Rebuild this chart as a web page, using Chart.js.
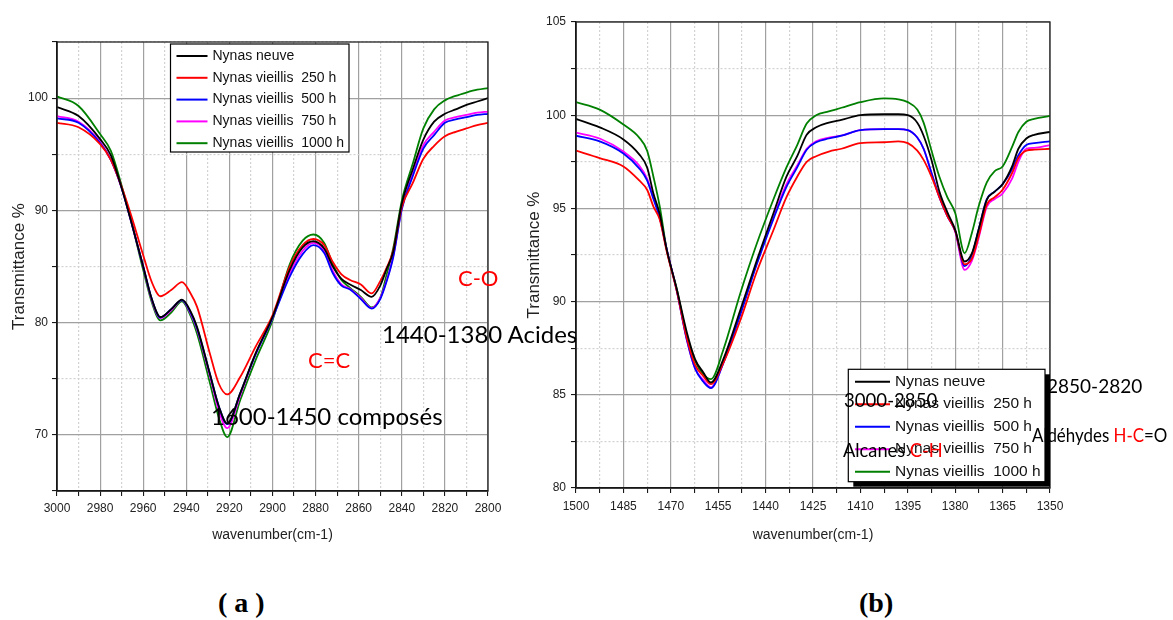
<!DOCTYPE html>
<html>
<head>
<meta charset="utf-8">
<script src="https://cdn.jsdelivr.net/npm/chart.js@4.4.1/dist/chart.umd.min.js"></script>
<style>
  body { margin: 0; background: #fff; width: 1173px; height: 620px; position: relative; overflow: hidden; }
  .wrap { position: absolute; top: 0; }
  .note { position: absolute; font-family: Lato, "Open Sans", sans-serif; line-height: 1; white-space: nowrap; color: #000; transform-origin: left top; }
  .red { color: #ff0000; }
  .cap { position: absolute; font-family: "Liberation Serif", "Times New Roman", serif; font-weight: bold; font-size: 28px; line-height: 1; white-space: pre; }
</style>
</head>
<body>
<div class="wrap" style="left:0"><canvas id="chartA" width="520" height="560"></canvas></div>
<div class="wrap" style="left:500px"><canvas id="chartB" width="673" height="560"></canvas></div>

<div class="note" style="left:458px;top:267px;font-size:22px;color:#f00">C-O</div>
<div class="note" style="left:382px;top:322px;font-size:24px">1440-1380 Acides</div>
<div class="note" style="left:308px;top:349px;font-size:22px;color:#f00">C=C</div>
<div class="note" style="left:211px;top:404px;font-size:24px">1600-1450 composés</div>
<div class="note" style="left:844px;top:389px;font-size:20px;transform:scaleX(0.93)">3000-2850</div>
<div class="note" style="left:1047px;top:376px;font-size:19px">2850-2820</div>
<div class="note" style="left:1032px;top:425px;font-size:19px;transform:scaleX(0.89)">Aldéhydes <span class="red">H-C</span>=O</div>
<div class="note" style="left:843px;top:440px;font-size:19px;transform:scaleX(0.96)">Alcanes <span class="red">C-H</span></div>
<div class="cap" style="left:218px;top:589px">( a )</div>
<div class="cap" style="left:859px;top:589px">(b)</div>

<script>
// series names (legend)
const seriesNames = ['Nynas neuve', 'Nynas vieillis  250 h', 'Nynas vieillis  500 h', 'Nynas vieillis  750 h', 'Nynas vieillis  1000 h'];
const seriesColors = ['#000000', '#ff0000', '#0000ff', '#ff00ff', '#008000'];

// (a) 3000-2800 cm-1
const wnA = [3000, 2990, 2980, 2975, 2970, 2966, 2960, 2956, 2952, 2947, 2942, 2938, 2935, 2929, 2925, 2921, 2915, 2908, 2900, 2892,
             2886, 2881, 2876, 2872, 2868, 2864, 2859, 2854, 2850, 2847, 2844, 2840, 2835, 2830, 2825, 2820, 2815, 2810, 2805, 2800];
const neuveA = [99.2, 98.4, 96.35, 94.9, 92.0, 89.3, 85.0, 82.1, 80.5, 81.2, 82.05, 81.0, 79.6, 75.4, 72.6, 71.0, 73.7, 77.2, 80.5, 84.7,
                86.7, 87.25, 86.6, 85.0, 83.9, 83.4, 82.9, 82.3, 83.3, 84.8, 86.3, 90.6, 93.6, 96.3, 97.9, 98.6, 99.0, 99.4, 99.7, 100.0];
const h250A = [97.8, 97.4, 95.9, 94.5, 92.1, 89.8, 86.0, 83.6, 82.35, 82.9, 83.6, 82.6, 81.4, 77.2, 74.6, 73.6, 75.15, 77.8, 80.65, 85.0,
               86.9, 87.45, 86.9, 85.4, 84.3, 83.8, 83.4, 82.6, 83.7, 84.9, 86.4, 90.3, 92.4, 94.6, 95.75, 96.6, 97.0, 97.3, 97.6, 97.8];
const h500A = [98.2, 97.8, 96.0, 94.5, 92.0, 89.3, 85.0, 82.1, 80.45, 81.2, 82.0, 80.9, 79.5, 75.4, 72.6, 70.95, 73.7, 77.1, 80.4, 84.1,
               86.1, 86.9, 86.2, 84.4, 83.3, 82.95, 82.1, 81.25, 82.1, 83.7, 85.8, 90.1, 93.0, 95.5, 96.7, 97.8, 98.1, 98.3, 98.5, 98.6];
const h750A = [98.4, 97.9, 96.1, 94.5, 92.0, 89.3, 85.0, 82.0, 80.4, 81.1, 82.0, 80.8, 79.4, 75.2, 72.2, 70.6, 73.5, 77.1, 80.4, 84.4,
               86.4, 87.1, 86.4, 84.6, 83.4, 83.0, 82.2, 81.3, 82.2, 83.8, 85.9, 90.2, 93.2, 95.8, 97.0, 98.0, 98.3, 98.5, 98.7, 98.8];
const h1000A = [100.15, 99.3, 96.8, 95.3, 92.2, 89.4, 84.7, 81.8, 80.2, 80.9, 81.9, 80.6, 79.0, 74.6, 71.6, 69.8, 73.1, 76.6, 80.2, 85.2,
                87.3, 87.85, 87.1, 85.2, 83.8, 83.1, 82.3, 81.35, 82.2, 84.3, 86.6, 90.85, 94.1, 97.3, 99.0, 99.8, 100.2, 100.5, 100.75, 100.9];
const xLabelsA = [3000, 2980, 2960, 2940, 2920, 2900, 2880, 2860, 2840, 2820, 2800];
const yLabelsA = [70, 80, 90, 100];

// (b) 1500-1350 cm-1
const wnB = [1500, 1492.5, 1485, 1480, 1477.5, 1475.5, 1473.5, 1471.3, 1468, 1465, 1462.3, 1459.7, 1457.3, 1453.4, 1448, 1442.8,
             1437.6, 1433.4, 1430, 1427, 1424, 1420, 1416, 1410, 1402.5, 1398, 1395, 1392, 1390, 1387.5, 1385, 1382.5, 1380, 1377,
             1374.7, 1372.6, 1370, 1367.5, 1365, 1362, 1360, 1357.5, 1355, 1350];
const neuveB = [99.8, 99.35, 98.7, 97.9, 97.2, 95.8, 94.7, 92.8, 90.6, 88.4, 86.9, 86.2, 85.66, 86.9, 89.55, 92.2,
                94.7, 96.7, 97.8, 98.95, 99.35, 99.6, 99.75, 100.0, 100.05, 100.05, 100.0, 99.6, 98.9, 97.6, 95.9, 94.8, 93.85, 92.15,
                92.6, 93.85, 95.46, 95.9, 96.3, 97.25, 98.2, 98.75, 98.95, 99.1];
const h250B = [98.1, 97.7, 97.25, 96.5, 96.0, 95.1, 94.4, 92.7, 90.5, 88.1, 86.6, 86.0, 85.57, 86.7, 89.0, 91.6,
               93.8, 95.6, 96.7, 97.5, 97.8, 98.05, 98.2, 98.5, 98.55, 98.6, 98.5, 98.1, 97.6, 96.7, 95.6, 94.6, 93.8, 92.0,
               92.3, 93.5, 95.2, 95.6, 96.0, 96.9, 97.7, 98.1, 98.15, 98.2];
const h500B = [98.9, 98.6, 97.95, 97.15, 96.5, 95.5, 94.5, 92.8, 90.5, 88.0, 86.4, 85.7, 85.36, 86.7, 89.3, 92.0,
               94.4, 96.15, 97.2, 98.15, 98.55, 98.75, 98.9, 99.2, 99.25, 99.25, 99.2, 98.8, 98.2, 96.9, 95.6, 94.6, 93.8, 91.9,
               92.5, 93.85, 95.5, 95.9, 96.3, 97.1, 97.85, 98.4, 98.5, 98.6];
const h750B = [99.07, 98.75, 98.05, 97.3, 96.6, 95.6, 94.5, 92.8, 90.5, 88.0, 86.4, 85.8, 85.4, 86.7, 89.4, 92.05,
               94.5, 96.3, 97.3, 98.2, 98.6, 98.8, 98.9, 99.2, 99.25, 99.25, 99.2, 98.8, 98.2, 96.9, 95.6, 94.6, 93.75, 91.7,
               92.2, 93.4, 95.1, 95.5, 95.8, 96.6, 97.5, 98.2, 98.25, 98.4];
const h1000B = [100.7, 100.3, 99.5, 98.8, 98.1, 96.7, 95.1, 92.8, 90.6, 88.2, 86.8, 86.1, 85.84, 87.4, 90.45, 93.1,
                95.45, 97.2, 98.4, 99.55, 100.0, 100.2, 100.4, 100.7, 100.9, 100.85, 100.7, 100.3, 99.6, 98.1, 96.7, 95.6, 94.75, 92.6,
                93.7, 95.1, 96.4, 97.0, 97.25, 98.3, 99.1, 99.65, 99.8, 99.96];
const xLabelsB = [1500, 1485, 1470, 1455, 1440, 1425, 1410, 1395, 1380, 1365, 1350];
const yLabelsB = [80, 85, 90, 95, 100, 105];

Chart.defaults.font.family = '"Liberation Sans", Arial, sans-serif';

const hasLabel = (list, v) => list.some(t => Math.abs(t - v) < 1e-6);

// frame round the plot area + boxed legend inside it
const boxLegend = {
  id: 'boxLegend',
  afterDraw(chart, args, o) {
    const c = chart.ctx;
    const a = chart.chartArea;
    c.save();
    c.strokeStyle = '#222';
    c.lineWidth = 1.3;
    c.strokeRect(a.left, a.top, a.right - a.left, a.bottom - a.top);
    if (o.shadow) {
      c.fillStyle = '#000';
      c.fillRect(o.x + o.shadow, o.y + o.shadow, o.w, o.h);
    }
    c.fillStyle = '#fff';
    c.fillRect(o.x, o.y, o.w, o.h);
    c.strokeStyle = '#000';
    c.lineWidth = 1.2;
    c.strokeRect(o.x, o.y, o.w, o.h);
    c.font = o.size + 'px "Liberation Sans", Arial, sans-serif';
    c.textBaseline = 'middle';
    chart.data.datasets.forEach((d, i) => {
      const yy = o.y + o.first + i * o.row;
      c.strokeStyle = d.borderColor;
      c.lineWidth = 2;
      c.beginPath();
      c.moveTo(o.x + o.l0, yy);
      c.lineTo(o.x + o.l1, yy);
      c.stroke();
      c.fillStyle = '#111';
      c.fillText(d.label, o.x + o.tx, yy);
    });
    c.restore();
  }
};

function spectrum(id, wn, series, o) {
  const gridColor = (labels) => (ctx) => hasLabel(labels, ctx.tick.value) ? '#a0a0a0' : '#d2d2d2';
  const gridDash = (labels) => (ctx) => (ctx.tick && hasLabel(labels, ctx.tick.value)) ? [] : [2, 2];
  return new Chart(document.getElementById(id), {
    type: 'line',
    data: {
      datasets: series.map((s, i) => ({
        label: seriesNames[i],
        data: wn.map((w, j) => ({ x: w, y: s[j] })),
        borderColor: seriesColors[i],
        borderWidth: 1.8,
        pointRadius: 0,
        fill: false,
        cubicInterpolationMode: 'monotone'
      }))
    },
    options: {
      responsive: false,
      animation: false,
      layout: { padding: o.pad },
      plugins: {
        legend: { display: false },
        tooltip: { enabled: false },
        boxLegend: o.legend
      },
      scales: {
        x: {
          type: 'linear',
          reverse: true,
          min: o.xMin,
          max: o.xMax,
          afterFit: s => { s.height = o.xH; },
          ticks: {
            stepSize: o.xStep, autoSkip: false, maxRotation: 0, padding: o.xPad,
            color: '#222', font: { size: 12 },
            callback: v => hasLabel(o.xLabels, v) ? String(v) : ''
          },
          grid: { color: gridColor(o.xLabels), lineWidth: 1.2, tickColor: '#000', tickLength: 5, tickWidth: 1 },
          border: { color: '#000', width: 1.5, dash: gridDash(o.xLabels) },
          title: { display: true, text: 'wavenumber(cm-1)', color: '#222', font: { size: 14 }, padding: { top: 0, bottom: 16.6 } }
        },
        y: {
          min: o.yMin,
          max: o.yMax,
          afterFit: s => { s.width = o.yW; },
          ticks: {
            stepSize: o.yStep, autoSkip: false, padding: o.yPad,
            color: '#222', font: { size: 12 },
            callback: v => hasLabel(o.yLabels, v) ? String(v) : ''
          },
          grid: { color: gridColor(o.yLabels), lineWidth: 1.2, tickColor: '#000', tickLength: 5, tickWidth: 1 },
          border: { color: '#000', width: 1.5, dash: gridDash(o.yLabels) },
          title: { display: true, text: 'Transmittance %', color: '#222', font: { size: 17 }, padding: { top: o.yTitle, bottom: 0 } }
        }
      }
    },
    plugins: [boxLegend]
  });
}

spectrum('chartA', wnA, [neuveA, h250A, h500A, h750A, h1000A], {
  pad: { left: 0, top: 42, right: 32, bottom: 0 },
  xMin: 2800, xMax: 3000, xStep: 10, xLabels: xLabelsA, xH: 69, xPad: 5,
  yMin: 65, yMax: 105, yStep: 5, yLabels: yLabelsA, yW: 57, yPad: 4, yTitle: 9,
  legend: { x: 170.5, y: 44, w: 178.5, h: 108, first: 12, row: 21.8, l0: 6, l1: 37, tx: 42, size: 14, shadow: 0 }
});

spectrum('chartB', wnB, [neuveB, h250B, h500B, h750B, h1000B], {
  pad: { left: 0, top: 22, right: 123, bottom: 0 },
  xMin: 1350, xMax: 1500, xStep: 7.5, xLabels: xLabelsB, xH: 72, xPad: 6,
  yMin: 80, yMax: 105, yStep: 2.5, yLabels: yLabelsB, yW: 76, yPad: 5, yTitle: 24,
  legend: { x: 348.3, y: 369.3, w: 196.7, h: 112.4, first: 12.4, row: 22.5, l0: 6.7, l1: 41.7, tx: 46.7, size: 15.5, shadow: 5 }
});
</script>
</body>
</html>
